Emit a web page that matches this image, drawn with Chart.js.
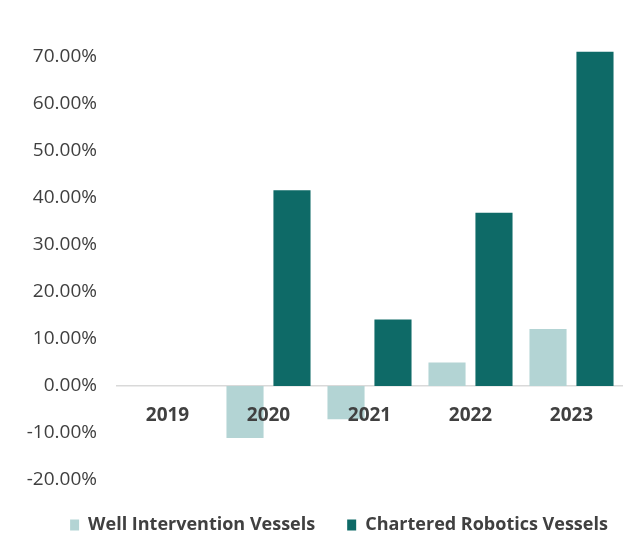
<!DOCTYPE html>
<html>
<head>
<meta charset="utf-8">
<script src="https://cdn.jsdelivr.net/npm/chart.js@4.4.1/dist/chart.umd.min.js"></script>
<style>
  html, body { margin: 0; padding: 0; background: #ffffff; }
  #wrap { width: 639px; height: 533px; }
</style>
</head>
<body>
<div id="wrap"><canvas id="growthChart" width="639" height="533"></canvas></div>
<script>
var years = ['2019', '2020', '2021', '2022', '2023'];
var wellIntervention = [0, -11.1, -7.1, 4.95, 12.1];
var charteredRobotics = [0, 41.6, 14.1, 36.8, 71.0];
var yTicks = [-20, -10, 0, 10, 20, 30, 40, 50, 60, 70];

var textColor = '#404040';

// nudge the legend a little right and down after layout
var legendOffset = {
  id: 'legendOffset',
  afterLayout: function (chart) {
    var lg = chart.legend;
    lg.left += 28; lg.right += 28;
    lg.top += 4; lg.bottom += 4;
  }
};

var ctx = document.getElementById('growthChart').getContext('2d');
var growthChart = new Chart(ctx, {
  type: 'bar',
  data: {
    labels: years,
    datasets: [{
      label: 'Well Intervention Vessels',
      data: wellIntervention,
      backgroundColor: '#b3d4d4',
      borderWidth: 0
    }, {
      label: 'Chartered Robotics Vessels',
      data: charteredRobotics,
      backgroundColor: '#0e6a67',
      borderWidth: 0
    }]
  },
  plugins: [legendOffset],
  options: {
    responsive: false,
    animation: false,
    layout: {
      padding: { top: 33, left: 0, right: 17, bottom: -7 }
    },
    datasets: {
      bar: { categoryPercentage: 0.93, barPercentage: 0.79 }
    },
    scales: {
      x: {
        position: { y: 0 },
        grid: { display: false, drawTicks: false },
        border: { display: true, color: '#d9d9d9', width: 1.5 },
        ticks: {
          z: 1, // year labels sit on top of the negative bars
          padding: 18,
          color: textColor,
          font: { family: 'Open Sans', size: 19, weight: 'bold' }
        }
      },
      y: {
        min: -20,
        max: 75,
        afterBuildTicks: function (scale) {
          scale.ticks = yTicks.map(function (v) { return { value: v }; });
        },
        afterFit: function (scale) {
          scale.width = 117;
        },
        grid: { display: false, drawTicks: false },
        border: { display: false },
        ticks: {
          padding: 20,
          color: textColor,
          font: { family: 'Open Sans', size: 19 },
          callback: function (v) { return v.toFixed(2) + '%'; }
        }
      }
    },
    plugins: {
      tooltip: { enabled: false },
      legend: {
        position: 'bottom',
        labels: {
          boxWidth: 9,
          boxHeight: 11,
          padding: 32,
          color: textColor,
          font: { family: 'Open Sans', size: 18, weight: 'bold' }
        }
      }
    }
  }
});
</script>
</body>
</html>
